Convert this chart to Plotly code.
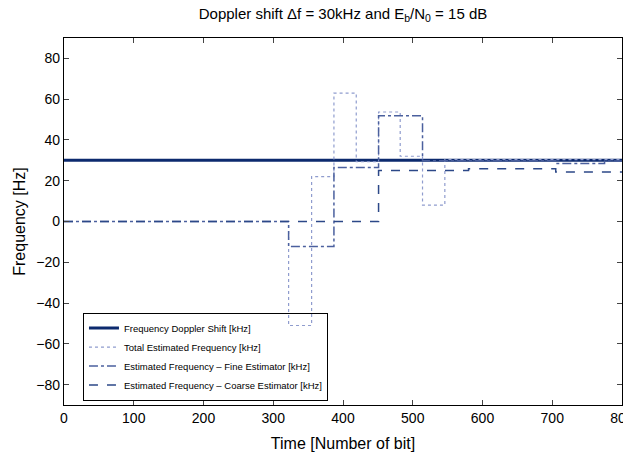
import plotly.graph_objects as go

# Time breakpoints [Number of bit] and values [kHz] (step signals)
doppler_t = [0, 800]
doppler_f = [30, 30]

total_t = [0, 322, 355, 387, 419, 451, 482, 514, 546, 800]
total_f = [0, -51, 22, 63, 29.3, 53.7, 32, 8, 30.3, 30.3]

fine_t = [0, 322, 387, 451, 514, 705, 775, 800]
fine_f = [0, -12.3, 26.5, 51.9, 29.8, 28.5, 29.7, 29.7]

coarse_t = [0, 451, 580, 705, 800]
coarse_f = [0, 25, 25.9, 24.3, 24.3]

x_ticks = [0, 100, 200, 300, 400, 500, 600, 700, 800]
y_ticks = [-80, -60, -40, -20, 0, 20, 40, 60, 80]

fig = go.Figure()
fig.add_trace(go.Scatter(x=doppler_t, y=doppler_f, mode="lines",
                         name="Frequency Doppler Shift [kHz]",
                         line=dict(color="#0c2a6e", width=3)))
fig.add_trace(go.Scatter(x=total_t, y=total_f, mode="lines", line_shape="hv",
                         name="Total Estimated Frequency [kHz]",
                         line=dict(color="#8f9cce", width=1.2, dash="dot")))
fig.add_trace(go.Scatter(x=fine_t, y=fine_f, mode="lines", line_shape="hv",
                         name="Estimated Frequency \u2013 Fine Estimator [kHz]",
                         line=dict(color="#4b609e", width=1.5, dash="dashdot")))
fig.add_trace(go.Scatter(x=coarse_t, y=coarse_f, mode="lines", line_shape="hv",
                         name="Estimated Frequency \u2013 Coarse Estimator [kHz]",
                         line=dict(color="#2c4888", width=1.5, dash="dash")))

axis_common = dict(showline=True, linecolor="black", linewidth=1.2, mirror="allticks",
                   ticks="inside", ticklen=5, tickcolor="#444", showgrid=False,
                   zeroline=False, automargin=False, ticklabeloverflow="allow",
                   tickfont=dict(size=14, color="black"))

# The page body has an 8px default margin, so the figure is sized to fill the rest.
fig.update_layout(
    width=623, height=444,
    margin=dict(l=56, r=9, t=30, b=47),
    paper_bgcolor="white", plot_bgcolor="white",
    font=dict(family="Liberation Sans, Arial, sans-serif", color="black"),
    title=dict(text="Doppler shift \u0394f = 30kHz and E<sub>b</sub>/N<sub>0</sub> = 15 dB",
               xref="container", x=0.5377, xanchor="center",
               yref="container", y=1.0, yanchor="top", pad=dict(t=0),
               font=dict(size=15, color="black")),
    xaxis=dict(range=[0, 800], tickvals=x_ticks,
               title=dict(text="Time [Number of bit]", font=dict(size=16), standoff=13),
               **axis_common),
    yaxis=dict(range=[-90, 90], tickvals=y_ticks,
               title=dict(text="Frequency [Hz]", font=dict(size=16), standoff=6),
               **axis_common),
    legend=dict(x=0.034, y=0.012, xanchor="left", yanchor="bottom",
                bgcolor="rgba(255,255,255,0)", bordercolor="black", borderwidth=1,
                font=dict(size=9.5), tracegroupgap=0),
    showlegend=True,
)

fig.write_html("out.html")
